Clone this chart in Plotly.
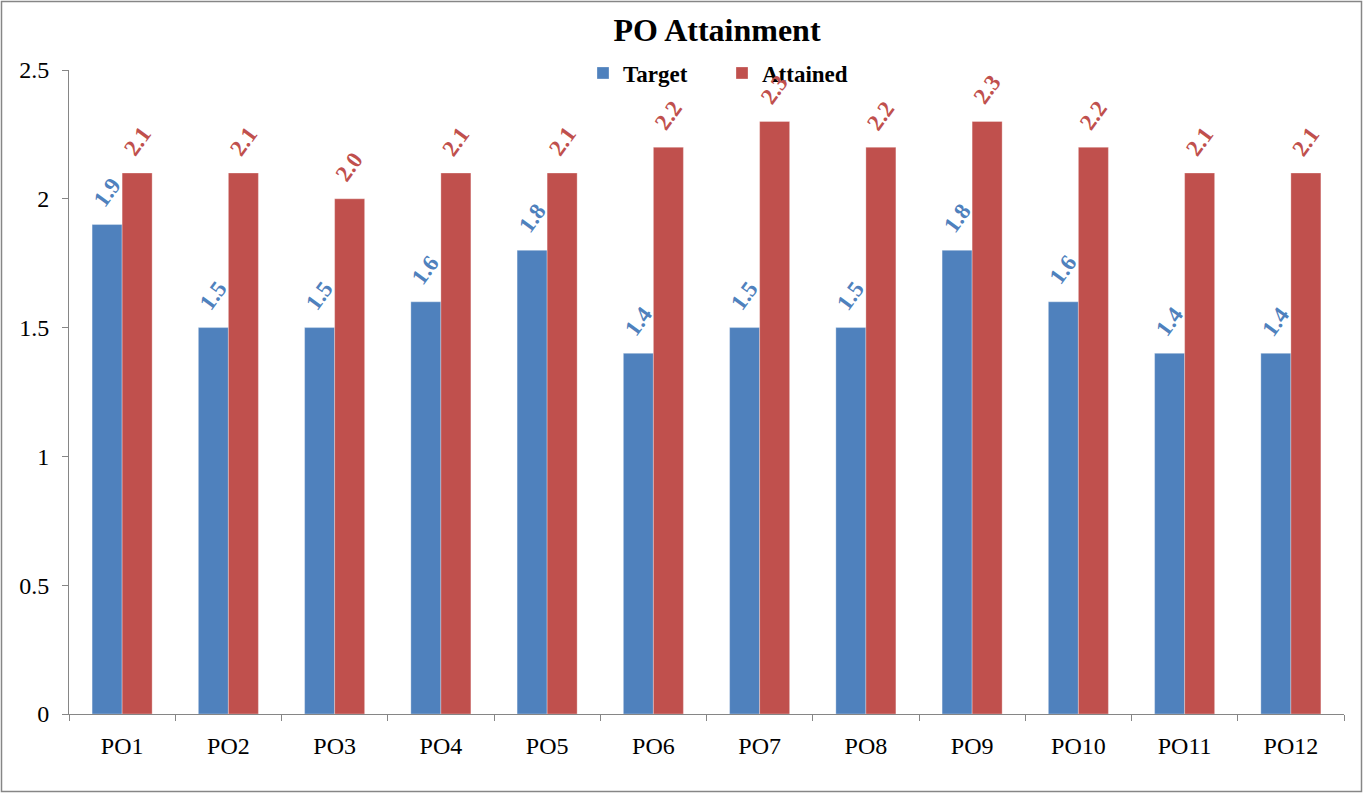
import plotly.graph_objects as go

categories = ["PO1", "PO2", "PO3", "PO4", "PO5", "PO6", "PO7", "PO8", "PO9", "PO10", "PO11", "PO12"]
target = [1.9, 1.5, 1.5, 1.6, 1.8, 1.4, 1.5, 1.5, 1.8, 1.6, 1.4, 1.4]
attained = [2.1, 2.1, 2.0, 2.1, 2.1, 2.2, 2.3, 2.2, 2.3, 2.2, 2.1, 2.1]

W, H = 1363, 793
ml, mr, mt, mb = 69, 19, 70, 79
pw, ph = W - ml - mr, H - mt - mb

font = "Liberation Serif, Times New Roman, serif"
blue, red = "#4F81BD", "#C0504D"

fig = go.Figure()
fig.add_trace(go.Bar(
    x=categories, y=target, name="Target",
    marker=dict(color=blue, line=dict(color="rgba(255,255,255,0.6)", width=0.5)),
))
fig.add_trace(go.Bar(
    x=categories, y=attained, name="Attained",
    marker=dict(color=red, line=dict(color="rgba(255,255,255,0.6)", width=0.5)),
))

for vals, col, dx in ((target, blue, -15), (attained, red, 15)):
    for c, v in zip(categories, vals):
        fig.add_annotation(x=c, y=v, xref="x", yref="y", text=f"<b>{v:.1f}</b>",
                           showarrow=False, textangle=-54, xanchor="center", yanchor="bottom",
                           xshift=dx, yshift=10,
                           font=dict(family=font, size=23, color=col))

def px_x(p):
    return (p - ml) / pw

def px_y(p):
    return (H - mb - p) / ph

fig.add_shape(type="rect", xref="paper", yref="paper",
              x0=px_x(1.5), x1=px_x(W - 1.5), y0=px_y(H - 1.5), y1=px_y(1.5),
              line=dict(color="#868686", width=1.5), fillcolor="rgba(0,0,0,0)", layer="below")

fig.update_layout(
    width=W, height=H,
    margin=dict(l=ml, r=mr, t=mt, b=mb),
    paper_bgcolor="white", plot_bgcolor="white",
    barmode="group", bargap=0.435, bargroupgap=0,
    title=dict(text="<b>PO Attainment</b>", xref="paper", x=px_x(717), xanchor="center",
               y=1 - 30 / H, yanchor="middle",
               font=dict(family=font, size=32, color="black")),
    legend=dict(orientation="h", x=px_x(583), xanchor="left", y=px_y(73), yanchor="middle",
                font=dict(family=font, size=23, color="black", weight="bold"),
                bgcolor="rgba(0,0,0,0)", itemwidth=30, entrywidth=94, traceorder="normal"),
    font=dict(family=font, size=24, color="black"),
    showlegend=True,
)
fig.update_xaxes(showline=True, linecolor="#868686", linewidth=1, ticks="outside",
                 ticklen=6, tickcolor="#868686", tickson="boundaries", ticklabelstandoff=10,
                 tickfont=dict(family=font, size=24, color="black"), showgrid=False)
fig.update_yaxes(range=[0, 2.5], dtick=0.5, showline=True, linecolor="#868686", linewidth=1,
                 ticks="outside", ticklen=6, tickcolor="#868686", showgrid=False, zeroline=False,
                 ticklabelstandoff=8,
                 tickfont=dict(family=font, size=24, color="black"), tickformat="~g")

fig.write_html("out.html", config={"displayModeBar": False},
               post_script="document.body.style.margin='0';")
